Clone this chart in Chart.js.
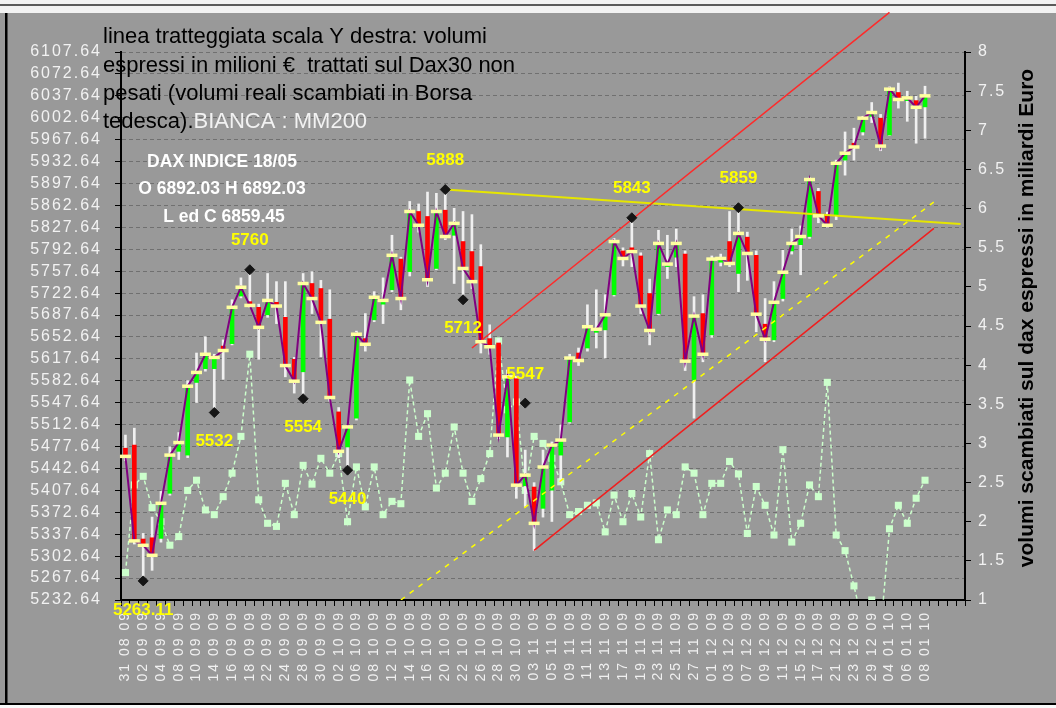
<!DOCTYPE html>
<html>
<head>
<meta charset="utf-8">
<script src="https://cdn.jsdelivr.net/npm/chart.js@4.4.1/dist/chart.umd.min.js"></script>
<style>
  html, body { margin: 0; padding: 0; background: #999; }
  canvas { display: block; }
</style>
</head>
<body>
<canvas id="chart" width="1056" height="708"></canvas>
<script>
// trading days 31/08/09 .. 08/01/10
const dates = ['31 08 09','01 09 09','02 09 09','03 09 09','04 09 09','07 09 09','08 09 09','09 09 09','10 09 09','11 09 09',
  '14 09 09','15 09 09','16 09 09','17 09 09','18 09 09','21 09 09','22 09 09','23 09 09','24 09 09','25 09 09',
  '28 09 09','29 09 09','30 09 09','01 10 09','02 10 09','05 10 09','06 10 09','07 10 09','08 10 09','09 10 09',
  '12 10 09','13 10 09','14 10 09','15 10 09','16 10 09','19 10 09','20 10 09','21 10 09','22 10 09','23 10 09',
  '26 10 09','27 10 09','28 10 09','29 10 09','30 10 09','02 11 09','03 11 09','04 11 09','05 11 09','06 11 09',
  '09 11 09','10 11 09','11 11 09','12 11 09','13 11 09','16 11 09','17 11 09','18 11 09','19 11 09','20 11 09',
  '23 11 09','24 11 09','25 11 09','26 11 09','27 11 09','30 11 09','01 12 09','02 12 09','03 12 09','04 12 09',
  '07 12 09','08 12 09','09 12 09','10 12 09','11 12 09','14 12 09','15 12 09','16 12 09','17 12 09','18 12 09',
  '21 12 09','22 12 09','23 12 09','28 12 09','29 12 09','30 12 09','04 01 10','05 01 10','06 01 10','07 01 10','08 01 10'];
const emptyDays = ['', '', '', ''];

const opens = [5475,5480,5330,5332,5331,5403,5470,5464,5580,5602,
  5602,5638,5642,5718,5709,5700,5688,5708,5684,5617,
  5597,5738,5730,5681,5533,5477,5523,5650,5680,5705,
  5728,5777,5757,5853,5845,5762,5855,5815,5805,5789,
  5765,5650,5643,5493,5586,5415,5413,5379,5408,5464,
  5517,5627,5635,5660,5664,5720,5790,5795,5782,5722,
  5690,5765,5780,5785,5584,5690,5656,5772,5805,5754,
  5812,5783,5673,5648,5714,5790,5800,5813,5885,5847,
  5847,5935,5962,5980,6005,6002,5975,6043,6030,6030,6020];
const highs = [5496,5507,5339,5365,5406,5477,5500,5583,5627,5653,
  5625,5648,5712,5747,5760,5705,5754,5741,5741,5620,
  5754,5757,5743,5728,5540,5512,5662,5690,5725,5747,
  5815,5780,5869,5865,5884,5882,5888,5858,5853,5848,
  5800,5672,5650,5600,5590,5472,5420,5472,5485,5512,
  5625,5635,5704,5728,5720,5810,5795,5843,5787,5745,
  5823,5815,5825,5790,5717,5720,5782,5785,5853,5859,
  5820,5790,5714,5741,5791,5825,5830,5907,5890,5852,
  5935,5980,5986,6005,6027,6008,6052,6058,6045,6037,6053];
const lows = [5455,5322,5263.11,5280,5325,5400,5457,5460,5548,5598,
  5532,5585,5640,5715,5700,5617,5684,5674,5589,5563,
  5554,5690,5621,5550,5460,5440,5520,5630,5677,5674,
  5725,5696,5750,5820,5733,5760,5808,5738,5712,5730,
  5627,5625,5490,5461,5395,5382,5312,5365,5358,5419,
  5515,5607,5630,5635,5619,5718,5766,5765,5690,5640,
  5688,5746,5765,5599,5523,5613,5652,5766,5765,5725,
  5743,5661,5613,5645,5710,5785,5752,5810,5835,5828,
  5840,5911,5935,5975,5995,5950,5974,6018,5997,5962,5970];
const closes = [5462,5327,5320,5304,5387,5464,5484,5574,5596,5625,
  5620,5631,5700,5732,5703,5668,5711,5702,5607,5582,
  5738,5714,5676,5556,5470,5509,5657,5641,5716,5711,
  5783,5714,5853,5831,5744,5853,5813,5834,5762,5741,
  5645,5637,5496,5589,5416,5432,5355,5445,5480,5488,
  5619,5615,5669,5665,5688,5805,5778,5789,5702,5663,
  5802,5769,5802,5614,5686,5625,5777,5778,5770,5818,
  5786,5689,5649,5708,5756,5802,5813,5904,5846,5831,
  5930,5946,5956,6002,6011,5957.43,6048.30,6031.86,6034.33,6019.36,6037.61];

// volumes, billion EUR (right axis)
const volumes = [1.35,2.47,2.58,2.18,2.0,1.70,1.81,2.40,2.53,2.15,
  2.09,2.32,2.62,3.09,4.14,2.28,1.98,1.94,2.49,2.09,
  2.72,2.48,2.81,2.62,2.87,2.00,2.70,2.19,2.70,2.09,
  2.26,2.23,3.81,3.09,3.38,2.43,2.62,3.21,2.62,2.26,
  2.55,2.87,4.31,3.43,3.53,2.40,3.09,3.0,2.81,2.51,
  2.09,2.13,2.21,2.24,1.87,2.34,2.00,2.36,2.06,2.87,
  1.77,2.15,2.09,2.70,2.62,2.09,2.49,2.49,2.77,2.61,
  1.85,2.45,2.21,1.83,2.92,1.74,1.98,2.47,2.32,3.78,
  1.83,1.63,1.18,0.7,1.0,0.6,1.91,2.21,1.98,2.30,2.53];

// swing points
const pivotIdx = [2, 10, 14, 20, 25, 36, 38, 45, 57, 69];
const pivotVal = [5263.11, 5532, 5760, 5554, 5440, 5888, 5712, 5547, 5843, 5859];
const pivotSide = ['below','below','above','below','below','above','below','above','above','above'];

// trend lines: [day index, value]
const redUpper = [[39, 5635], [86, 6171]];
const redLower = [[46, 5312], [91, 5826]];
const yellowLine = [[36, 5888], [94, 5833]];
const yellowDashed = [[31, 5232.64], [91, 5868]];

const leftTicks = [5232.64,5267.64,5302.64,5337.64,5372.64,5407.64,5442.64,5477.64,5512.64,5547.64,
  5582.64,5617.64,5652.64,5687.64,5722.64,5757.64,5792.64,5827.64,5862.64,5897.64,
  5932.64,5967.64,6002.64,6037.64,6072.64,6107.64];
const rightTicks = [1,1.5,2,2.5,3,3.5,4,4.5,5,5.5,6,6.5,7,7.5,8];

const labels = dates.concat(emptyDays);
const N = labels.length;
const pad = arr => arr.concat(Array(N - arr.length).fill(null));
const seg = pairs => {
  const d = Array(N).fill(null);
  pairs.forEach(([i, v]) => { d[i] = v; });
  return d;
};
const pivotData = seg(pivotIdx.map((i, k) => [i, pivotVal[k]]));

const FONT = '"Liberation Sans", Arial, sans-serif';
Chart.defaults.font.family = FONT;

const decor = {
  id: 'decor',
  beforeDraw(chart) {
    const c = chart.ctx;
    c.save();
    c.fillStyle = '#999999';
    c.fillRect(0, 0, chart.width, chart.height);
    c.fillStyle = '#f2f2f2';
    c.fillRect(0, 0, chart.width, 13);
    c.fillStyle = '#5a5a5a';
    c.fillRect(0, 4, chart.width, 2);
    c.fillStyle = '#000';
    c.fillRect(5, 13, 2.5, 690);
    c.fillRect(0, 703, chart.width, 2);
    c.fillStyle = '#fafafa';
    c.fillRect(0, 705, chart.width, 3);
    c.restore();
    if ('letterSpacing' in c) c.letterSpacing = '2px';
  },
  beforeDatasetsDraw(chart) {
    if ('letterSpacing' in chart.ctx) chart.ctx.letterSpacing = '0px';
  },
  afterDraw(chart) {
    const c = chart.ctx;
    const xs = chart.scales.x, ys = chart.scales.y;
    c.save();
    if ('letterSpacing' in c) c.letterSpacing = '0px';

    // pivot labels
    c.font = 'bold 17px ' + FONT;
    c.fillStyle = '#ffff00';
    c.textAlign = 'center';
    c.textBaseline = 'middle';
    pivotIdx.forEach((idx, k) => {
      const x = xs.getPixelForValue(idx);
      const y = ys.getPixelForValue(pivotVal[k]) + (pivotSide[k] === 'above' ? -29 : 29);
      c.fillText(String(pivotVal[k]), x, y);
    });

    // note at top-left
    c.textAlign = 'left';
    c.textBaseline = 'alphabetic';
    c.font = '22px ' + FONT;
    c.fillStyle = '#000';
    c.fillText('linea tratteggiata scala Y destra: volumi', 103, 43);
    c.fillText('espressi in milioni €  trattati sul Dax30 non', 103, 72);
    c.fillText('pesati (volumi reali scambiati in Borsa', 103, 100);
    c.fillText('tedesca).', 103, 128);
    const w = c.measureText('tedesca).').width;
    c.fillStyle = '#f2f2f2';
    c.fillText('BIANCA : MM200', 103 + w, 128);

    // index box
    c.font = 'bold 17.5px ' + FONT;
    c.fillStyle = '#ffffff';
    c.textAlign = 'center';
    c.fillText('DAX INDICE 18/05', 222, 167);
    c.fillText('O 6892.03 H 6892.03', 222, 194);
    c.fillText('L ed C 6859.45', 224, 222);

    // right axis title
    c.translate(1027, 318);
    c.rotate(-Math.PI / 2);
    c.font = 'bold 21px ' + FONT;
    c.fillStyle = '#000';
    c.textBaseline = 'middle';
    c.fillText('volumi scambiati sul dax espressi in miliardi Euro', 0, 0);
    c.restore();
  }
};

const ctx = document.getElementById('chart').getContext('2d');
new Chart(ctx, {
  type: 'bar',
  data: {
    labels: labels,
    datasets: [
      {
        type: 'line', label: 'pivot', data: pivotData, showLine: false,
        pointStyle: 'rectRot', pointRadius: 5, pointBackgroundColor: '#151515',
        pointBorderColor: '#151515', yAxisID: 'y', order: 1
      },
      {
        type: 'line', label: 'chiusura', data: pad(closes), showLine: false,
        pointStyle: 'line', pointRadius: 5.5, pointBorderWidth: 3.5,
        pointBorderColor: '#ffffa0', yAxisID: 'y', order: 2
      },
      {
        type: 'line', label: 'res', data: seg(redUpper), spanGaps: true, borderColor: '#ff2a2a',
        borderWidth: 1.5, pointRadius: 0, clip: false, yAxisID: 'y', order: 3
      },
      {
        type: 'line', label: 'sup', data: seg(redLower), spanGaps: true, borderColor: '#f01e1e',
        borderWidth: 1.5, pointRadius: 0, yAxisID: 'y', order: 3
      },
      {
        type: 'line', label: 'gialla', data: seg(yellowLine), spanGaps: true, borderColor: '#e6e600',
        borderWidth: 2, pointRadius: 0, yAxisID: 'y', order: 3
      },
      {
        type: 'line', label: 'MM', data: seg(yellowDashed), spanGaps: true, borderColor: '#ffff00',
        borderWidth: 1.5, borderDash: [5, 6], pointRadius: 0, yAxisID: 'y', order: 3
      },
      {
        type: 'line', label: 'close line', data: pad(closes), borderColor: '#800080',
        borderWidth: 2, pointRadius: 0, tension: 0, yAxisID: 'y', order: 4
      },
      {
        label: 'corpo', data: pad(opens.map((o, i) => [o, closes[i]])),
        backgroundColor: pad(opens.map((o, i) => closes[i] >= o ? '#00ff00' : '#ff0000')),
        barThickness: 4, grouped: false, yAxisID: 'y', order: 5
      },
      {
        label: 'min-max', data: pad(lows.map((l, i) => [l, highs[i]])),
        backgroundColor: '#f0f0f0', barThickness: 2, grouped: false, yAxisID: 'y', order: 6
      },
      {
        type: 'line', label: 'volumi', data: pad(volumes), borderColor: '#ccffcc',
        borderWidth: 1.5, borderDash: [4, 3], pointStyle: 'rect', pointRadius: 5,
        pointBackgroundColor: '#ccffcc', pointBorderColor: '#ccffcc', pointBorderWidth: 0,
        yAxisID: 'y2', order: 7
      }
    ]
  },
  options: {
    responsive: false,
    animation: false,
    layout: { padding: { top: 52, left: 0, right: 0, bottom: 0 } },
    plugins: { legend: { display: false }, tooltip: { enabled: false } },
    scales: {
      x: {
        type: 'category',
        offset: true,
        grid: { offset: true, drawOnChartArea: false, drawTicks: true, tickLength: 6, tickColor: '#000', color: '#000' },
        border: { color: '#000', width: 2 },
        ticks: {
          autoSkip: false, maxRotation: 90, minRotation: 90, padding: 5,
          color: '#f0f0f0', font: { size: 14 },
          callback: function (v, i) { return i % 2 === 0 ? this.getLabelForValue(v) : ''; }
        },
        afterFit: s => { s.height = 108; }
      },
      y: {
        position: 'left',
        min: leftTicks[0], max: leftTicks[leftTicks.length - 1],
        afterBuildTicks: s => { s.ticks = leftTicks.map(v => ({ value: v })); },
        grid: { color: '#707070', tickColor: '#000', tickLength: 6 },
        border: { color: '#000', width: 2, dash: [4, 3] },
        ticks: { autoSkip: false, color: '#f2f2f2', font: { size: 16 }, padding: 13, callback: v => v.toFixed(2) },
        afterFit: s => { s.width = 121; }
      },
      y2: {
        position: 'right',
        min: rightTicks[0], max: rightTicks[rightTicks.length - 1],
        afterBuildTicks: s => { s.ticks = rightTicks.map(v => ({ value: v })); },
        grid: { drawOnChartArea: false, tickColor: '#000', tickLength: 6 },
        border: { color: '#000', width: 2 },
        ticks: { autoSkip: false, color: '#f2f2f2', font: { size: 16 }, padding: 7, callback: v => String(v) },
        afterFit: s => { s.width = 91; }
      }
    }
  },
  plugins: [decor]
});
</script>
</body>
</html>
